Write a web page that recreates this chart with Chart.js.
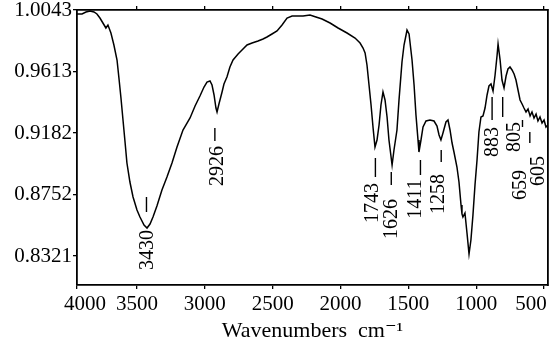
<!DOCTYPE html>
<html>
<head>
<meta charset="utf-8">
<script src="https://cdn.jsdelivr.net/npm/chart.js@4.4.1/dist/chart.umd.min.js"></script>
<style>
  html, body { margin: 0; padding: 0; background: #fff; }
  #wrap { width: 558px; height: 346px; }
</style>
</head>
<body>
<div id="wrap"><canvas id="irChart" width="558" height="346"></canvas></div>
<script>
// spectrum (cm-1, transmittance)
const wavenumbers = [
  3942, 3905, 3876, 3846, 3817, 3795, 3773, 3751, 3729, 3714, 3692, 3670, 3647, 3633, 3618, 3603,
  3588, 3574, 3552, 3529, 3500, 3478, 3448, 3426, 3404, 3382, 3353, 3316, 3279, 3242, 3205, 3161,
  3109, 3072, 3036, 3006, 2984, 2962, 2947, 2932, 2918, 2910, 2896, 2873, 2859, 2837, 2815, 2792,
  2755, 2726, 2689, 2652, 2608, 2571, 2542, 2505, 2468, 2431, 2394, 2357, 2321, 2276, 2225, 2181,
  2136, 2077, 2018, 1952, 1893, 1856, 1834, 1819, 1805, 1790, 1775, 1760, 1746, 1731, 1716, 1702,
  1687, 1672, 1657, 1643, 1620, 1606, 1584, 1569, 1547, 1532, 1517, 1510, 1495, 1473, 1458, 1444,
  1429, 1422, 1407, 1392, 1370, 1341, 1311, 1289, 1274, 1260, 1245, 1223, 1208, 1193, 1178, 1164,
  1142, 1127, 1112, 1105, 1098, 1083, 1068, 1053, 1039, 1024, 1009, 994, 980, 965, 950, 935,
  920, 906, 891, 876, 861, 846, 839, 824, 810, 795, 780, 766, 751, 736, 721, 707,
  692, 677, 662, 648, 633, 618, 603, 589, 574, 559, 545, 530, 515, 500, 486, 471
]
const transmittance = [
  1.0015, 1.0015, 1.0029, 1.0036, 1.0029, 1.0015, 0.9987, 0.9952, 0.9917, 0.9938, 0.9882, 0.9798, 0.9693, 0.9567, 0.9427, 0.9273,
  0.9119, 0.8972, 0.8839, 0.8734, 0.8643, 0.8594, 0.8538, 0.8517, 0.8545, 0.8594, 0.8671, 0.8783, 0.8874, 0.8972, 0.9084, 0.9203,
  0.9287, 0.9371, 0.9441, 0.9504, 0.9539, 0.9546, 0.9518, 0.9448, 0.9357, 0.9329, 0.9385, 0.9469, 0.9525, 0.9574, 0.9644, 0.9693,
  0.9735, 0.9763, 0.9798, 0.9812, 0.9826, 0.9840, 0.9854, 0.9875, 0.9896, 0.9938, 0.9987, 1.0001, 1.0001, 1.0001, 1.0008, 0.9994,
  0.9980, 0.9952, 0.9917, 0.9882, 0.9847, 0.9812, 0.9777, 0.9742, 0.9658, 0.9518, 0.9378, 0.9217, 0.9084, 0.9133, 0.9238, 0.9378,
  0.9469, 0.9413, 0.9294, 0.9133, 0.8958, 0.9063, 0.9203, 0.9413, 0.9679, 0.9798, 0.9868, 0.9903, 0.9875, 0.9693, 0.9518, 0.9308,
  0.9133, 0.9049, 0.9133, 0.9224, 0.9266, 0.9273, 0.9266, 0.9231, 0.9168, 0.9133, 0.9182, 0.9259, 0.9273, 0.9203, 0.9112, 0.9049,
  0.8944, 0.8839, 0.8678, 0.8615, 0.8594, 0.8622, 0.8482, 0.8335, 0.8433, 0.8608, 0.8818, 0.8993, 0.9189, 0.9294, 0.9301, 0.9357,
  0.9448, 0.9511, 0.9525, 0.9476, 0.9588, 0.9728, 0.9805, 0.9693, 0.9553, 0.9497, 0.9581, 0.9630, 0.9644, 0.9623, 0.9595, 0.9553,
  0.9483, 0.9413, 0.9385, 0.9357, 0.9329, 0.9350, 0.9301, 0.9329, 0.9287, 0.9315, 0.9266, 0.9294, 0.9252, 0.9273, 0.9224, 0.9238
]

const xTickValues = [4000, 3500, 3000, 2500, 2000, 1500, 1000, 500]
const yTickValues = [1.0043, 0.9613, 0.9182, 0.8752, 0.8321]
const peakWavenumbers = [3430, 2926, 1743, 1626, 1411, 1258, 883, 805, 659, 605]

const X_MAX = 3942, X_MIN = 471
const Y_MAX = 1.0043, Y_MIN = 0.8118

// where each peak label sits, in data units: text centre x / y, dash top / bottom
const labelPlacement = [
  { tx: 3426, ty: 0.8363, d1: 0.8734, d2: 0.8629 },
  { tx: 2910, ty: 0.8951, d1: 0.9217, d2: 0.9126 },
  { tx: 1768, ty: 0.8692, d1: 0.9007, d2: 0.8874 },
  { tx: 1628, ty: 0.8580, d1: 0.8909, d2: 0.8818 },
  { tx: 1451, ty: 0.8720, d1: 0.8993, d2: 0.8888 },
  { tx: 1281, ty: 0.8755, d1: 0.9063, d2: 0.8979 },
  { tx: 883,  ty: 0.9119, d1: 0.9434, d2: 0.9273 },
  { tx: 721,  ty: 0.9154, d1: 0.9434, d2: 0.9294 },
  { tx: 677,  ty: 0.8818, d1: 0.9273, d2: 0.9224 },
  { tx: 544,  ty: 0.8916, d1: 0.9189, d2: 0.9112 }
]

const INK = '#000'
Chart.defaults.font.family = "'Liberation Serif', 'DejaVu Serif', serif"
Chart.defaults.color = '#000'

const peakLabels = {
  id: 'peakLabels',
  afterDatasetsDraw(chart) {
    const { ctx, scales: { x, y } } = chart
    ctx.save()
    ctx.strokeStyle = INK
    ctx.lineWidth = 1.4
    ctx.fillStyle = '#000'
    ctx.font = "20px 'Liberation Serif', serif"
    ctx.textAlign = 'center'
    ctx.textBaseline = 'middle'
    peakWavenumbers.forEach((wn, i) => {
      const p = labelPlacement[i]
      const dx = x.getPixelForValue(wn)
      ctx.beginPath()
      ctx.moveTo(dx, y.getPixelForValue(p.d1))
      ctx.lineTo(dx, y.getPixelForValue(p.d2))
      ctx.stroke()
      ctx.save()
      ctx.translate(x.getPixelForValue(p.tx), y.getPixelForValue(p.ty))
      ctx.rotate(-Math.PI / 2)
      ctx.fillText(String(wn), 0, 1)
      ctx.restore()
    })
    ctx.restore()
  }
}

const points = wavenumbers.map((w, i) => ({ x: w, y: transmittance[i] }))

new Chart(document.getElementById('irChart'), {
  type: 'line',
  data: {
    datasets: [{
      data: points,
      borderColor: INK,
      borderWidth: 1.5,
      pointRadius: 0,
      tension: 0,
      fill: false
    }]
  },
  options: {
    responsive: false,
    animation: false,
    devicePixelRatio: 1,
    layout: { padding: 0 },
    plugins: { legend: { display: false }, tooltip: { enabled: false } },
    scales: {
      x: {
        type: 'linear',
        position: 'bottom',
        reverse: true,
        min: X_MIN,
        max: X_MAX,
        afterBuildTicks: s => { s.ticks = xTickValues.map(v => ({ value: Math.min(v, X_MAX) })) },
        afterFit: s => { s.height = 61; s.paddingLeft = 0; s.paddingRight = 0 },
        grid: { drawOnChartArea: false, drawTicks: true, tickLength: 4, color: INK, lineWidth: 1.3 },
        border: { display: true, color: INK, width: 1.8 },
        ticks: {
          autoSkip: false,
          maxRotation: 0,
          padding: 3,
          font: { size: 21 },
          callback: (v, i) => {
            const t = String(xTickValues[i])
            if (i === 0) return '   ' + t
            if (i === xTickValues.length - 1) return t + '     '
            return t
          }
        },
        title: {
          display: true,
          text: 'Wavenumbers  cm\u207B\u00B9',
          font: { size: 22 },
          padding: { top: 0, bottom: 2 }
        }
      },
      x2: {
        type: 'linear',
        axis: 'x',
        position: 'top',
        reverse: true,
        min: X_MIN,
        max: X_MAX,
        afterBuildTicks: s => { s.ticks = xTickValues.filter(v => v < X_MAX).map(v => ({ value: v })) },
        afterFit: s => { s.height = 10; s.paddingLeft = 0; s.paddingRight = 0 },
        grid: { drawOnChartArea: false, drawTicks: true, tickLength: 4, color: INK, lineWidth: 1.3 },
        border: { display: true, color: INK, width: 1.8 },
        ticks: { display: false }
      },
      y: {
        type: 'linear',
        position: 'left',
        min: Y_MIN,
        max: Y_MAX,
        afterBuildTicks: s => { s.ticks = yTickValues.map(v => ({ value: v })) },
        afterFit: s => { s.width = 77; s.paddingTop = 0; s.paddingBottom = 0 },
        grid: { drawOnChartArea: false, drawTicks: true, tickLength: 4, color: INK, lineWidth: 1.3 },
        border: { display: true, color: INK, width: 1.8 },
        ticks: {
          padding: 1,
          font: { size: 21 },
          callback: v => v.toFixed(4)
        }
      },
      y2: {
        type: 'linear',
        axis: 'y',
        position: 'right',
        min: Y_MIN,
        max: Y_MAX,
        afterFit: s => { s.width = 10; s.paddingTop = 0; s.paddingBottom = 0 },
        grid: { display: false },
        border: { display: true, color: INK, width: 1.8 },
        ticks: { display: false }
      }
    }
  },
  plugins: [peakLabels]
})
</script>
</body>
</html>
